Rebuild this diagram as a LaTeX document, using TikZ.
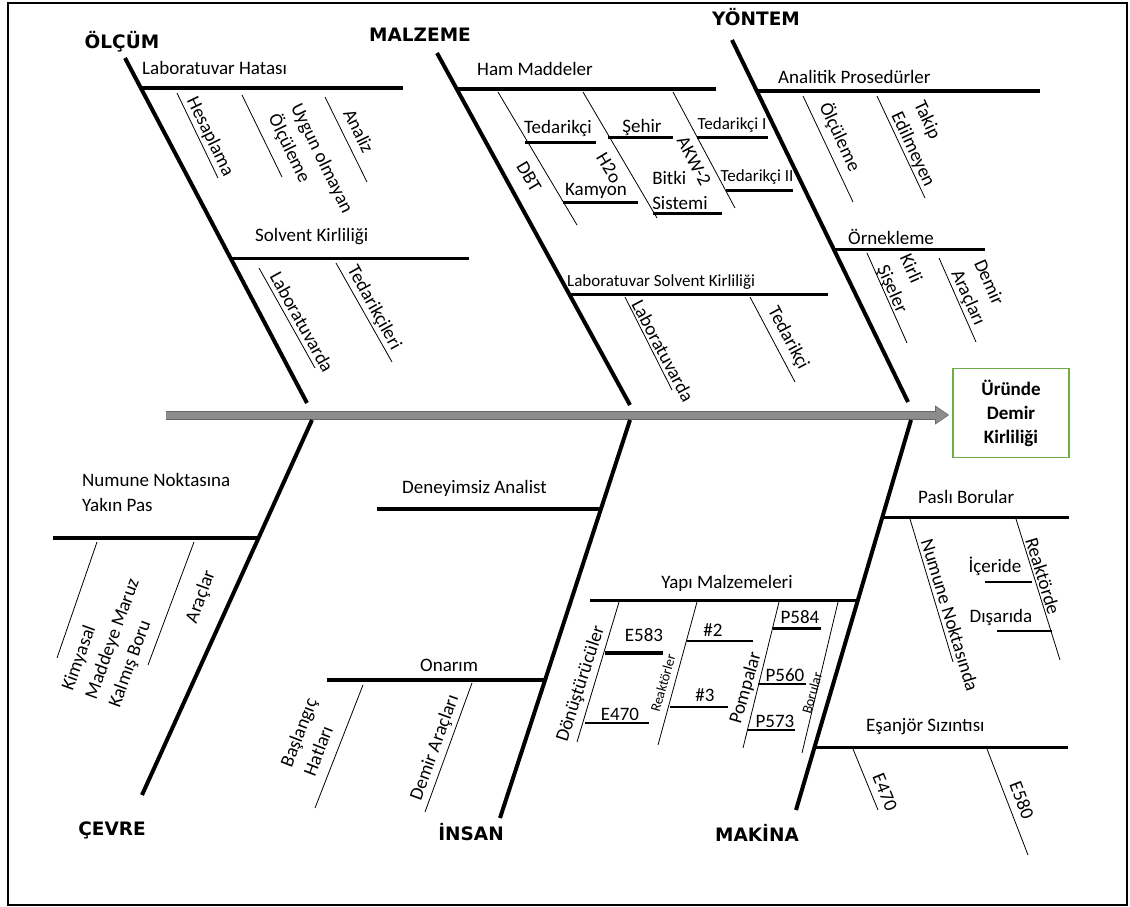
\documentclass[tikz,border=0pt]{standalone}
\usepackage{fontspec}
\setmainfont{Carlito}
\newfontfamily\catfont{DejaVu Sans}
\usetikzlibrary{arrows.meta}
\definecolor{boxgreen}{HTML}{70AD47}
\definecolor{spinegray}{HTML}{8C8C8C}

\begin{document}
\begin{tikzpicture}[
  x=1pt, y=-1pt,
  every node/.style={inner sep=0pt, font=\fontsize{19}{25}\selectfont},
  cat/.style={font=\catfont\bfseries\fontsize{18.5}{20}\selectfont},
  small/.style={font=\fontsize{17}{20}\selectfont},
  tiny/.style={font=\fontsize{14}{16}\selectfont},
  bone/.style={line width=4pt},
  rib/.style={line width=4pt},
  thinrib/.style={line width=3pt},
  twig/.style={line width=0.8pt},
  bar/.style={line width=3pt},
  thinbar/.style={line width=1.8pt},
  spine/.style={line width=7pt, draw=spinegray, -{Triangle[length=12pt,width=15pt]}, shorten >=4pt,
    preaction={draw=black!60, line width=9pt, -{Triangle[length=14pt,width=18pt]}, shorten >=3pt}}
]
\useasboundingbox (0,0) rectangle (1130,907);
\draw[line width=2.5pt] (8,3) rectangle (1127,905);

\node[draw=boxgreen, line width=1.6pt, minimum width=116pt, minimum height=89pt, align=center,
  font=\bfseries\fontsize{19}{24}\selectfont] (effect) at (1011,413) {Üründe\\Demir\\Kirliliği};
\coordinate (tail) at (166,415);
\draw[spine] (tail) -- (tail -| effect.west);

\node[cat] (olcum) at (122,42) {ÖLÇÜM};
\node[cat] (malzeme) at (420,35) {MALZEME};
\node[cat] (yontem) at (756,17) {YÖNTEM};
\node[cat] (cevre) at (112,830) {ÇEVRE};
\node[cat] (insan) at (471,832) {İNSAN};
\node[cat] (makina) at (757,833) {MAKİNA};

\coordinate (olcumA) at (125,58);  \coordinate (olcumB) at (307,403);
\coordinate (malzA) at (437,53);   \coordinate (malzB) at (630,405);
\coordinate (yontA) at (732,40);   \coordinate (yontB) at (908,402);
\coordinate (cevrA) at (312,420);  \coordinate (cevrB) at (142,795);
\coordinate (insanA) at (630,420); \coordinate (insanB) at (500,818);
\coordinate (makA) at (911,420);   \coordinate (makB) at (796,810);
\draw[bone] (olcumA) -- (olcumB);
\draw[bone] (malzA) -- (malzB);
\draw[bone] (yontA) -- (yontB);
\draw[bone] (cevrA) -- (cevrB);
\draw[bone] (insanA) -- (insanB);
\draw[bone] (makA) -- (makB);

% olcum
\draw[rib] (140,88) -- (403,88);
\node[anchor=west] (labHata) at (142,68) {Laboratuvar Hatası};
\draw[twig] (177,93) -- (218,178);
\node[rotate=-64] (hesap) at (210,137) {Hesaplama};
\draw[twig] (242,95) -- (282,177);
\node[rotate=-64, align=left] (uygun) at (310,164) {Uygun olmayan\\Ölçüleme};
\draw[twig] (325,97) -- (367,182);
\node[rotate=-64] (analiz) at (359,131) {Analiz};
\draw[thinrib] (232,258) -- (469,258);
\node[anchor=west] (solvent) at (255,237) {Solvent Kirliliği};
\draw[twig] (259,268) -- (315,368);
\node[rotate=-61] (labda) at (302,322) {Laboratuvarda};
\draw[twig] (336,263) -- (392,362);
\node[rotate=-61] (tedler) at (374,308) {Tedarikçileri};

% malzeme
\draw[rib] (457,89) -- (716,89);
\node[anchor=west] (ham) at (477,69) {Ham Maddeler};
\draw[twig] (498,92) -- (577,225);
\node[rotate=-59] (dbt) at (529,177) {DBT};
\draw[bar] (525,142) -- (596,142);
\node (tedDbt) at (558,128) {Tedarikçi};
\draw[bar] (563,202) -- (638,202);
\node (kamyon) at (596,191) {Kamyon};
\draw[twig] (583,92) -- (657,218);
\node[rotate=-59] (hto) at (609,168) {H2o};
\draw[bar] (608,137) -- (673,137);
\node (sehir) at (642,127) {Şehir};
\draw[bar] (653,213) -- (722,213);
\node[align=left] (bitki) at (680,190) {Bitki\\Sistemi};
\draw[twig] (673,92) -- (735,208);
\node[rotate=-62] (akw) at (694,161) {AKW-2};
\draw[bar] (697,137) -- (768,137);
\node[small] (tedI) at (732,125) {Tedarikçi I};
\draw[bar] (726,190) -- (793,190);
\node[small] (tedII) at (757,177) {Tedarikçi II};
\draw[thinrib] (568,294) -- (828,294);
\node[small, anchor=west] (labSolvent) at (567,282) {Laboratuvar Solvent Kirliliği};
\draw[twig] (625,297) -- (672,390);
\node[rotate=-62] (labda2) at (663,351) {Laboratuvarda};
\draw[twig] (750,297) -- (795,382);
\node[rotate=-62] (tedLab) at (788,338) {Tedarikçi};

% yontem
\draw[rib] (758,91) -- (1040,91);
\node[anchor=west] (analitik) at (778,77) {Analitik Prosedürler};
\draw[twig] (803,96) -- (853,202);
\node[rotate=-65] (olculeme) at (840,137) {Ölçüleme};
\draw[twig] (877,96) -- (925,198);
\node[rotate=-65, align=left] (takip) at (924,144) {Takip\\Edilmeyen};
\draw[thinrib] (835,249) -- (985,249);
\node[anchor=west] (ornek) at (848,237) {Örnekleme};
\draw[twig] (867,253) -- (907,343);
\node[rotate=-66, align=left] (kirli) at (903,284) {Kirli\\Şişeler};
\draw[twig] (939,258) -- (976,342);
\node[rotate=-66, align=left] (demirOrn) at (979,293) {Demir\\Araçları};

% cevre
\draw[rib] (53,538) -- (258,538);
\node[anchor=west, align=left] (numune) at (82,492) {Numune Noktasına\\Yakın Pas};
\draw[twig] (97,542) -- (57,658);
\node[rotate=70, align=left] (kimya) at (113,639) {Kimyasal\\Maddeye Maruz\\Kalmış Boru};
\draw[twig] (194,542) -- (148,665);
\node[rotate=70] (araclar) at (201,597) {Araçlar};

% insan
\draw[rib] (377,509) -- (601,509);
\node[anchor=west] (deney) at (402,488) {Deneyimsiz Analist};
\draw[rib] (327,680) -- (545,680);
\node[anchor=west] (onarim) at (420,665) {Onarım};
\draw[twig] (363,685) -- (315,808);
\node[rotate=69, align=left] (baslangic) at (310,737) {Başlangıç\\Hatları};
\draw[twig] (472,683) -- (425,812);
\node[rotate=70] (demirOn) at (435,748) {Demir Araçları};

% makina
\draw[thinrib] (883,517) -- (1069,517);
\node[anchor=west] (pasli) at (918,497) {Paslı Borular};
\draw[twig] (910,519) -- (953,662);
\node[rotate=-73] (numNok) at (950,615) {Numune Noktasında};
\draw[twig] (1016,519) -- (1060,660);
\node[rotate=-73] (reaktorde) at (1043,576) {Reaktörde};
\draw[thinbar] (985,582) -- (1032,582);
\node (iceride) at (995,566) {İçeride};
\draw[thinbar] (997,631) -- (1052,631);
\node (disarida) at (1001,617) {Dışarıda};

\draw[thinrib] (590,600) -- (858,600);
\node (yapi) at (727,583) {Yapı Malzemeleri};
\draw[twig] (619,602) -- (577,742);
\node[rotate=72] (donus) at (581,684) {Dönüştürücüler};
\draw[line width=4pt] (605,653) -- (663,653);
\node (eBes) at (644,635) {E583};
\draw[thinbar] (585,723) -- (649,723);
\node (eDort) at (620,714) {E470};
\draw[twig] (697,602) -- (658,745);
\node[rotate=74, tiny] (reaktor) at (663,683) {Reaktörler};
\draw[thinbar] (687,641) -- (753,641);
\node (iki) at (713,630) {\#2};
\draw[line width=1.4pt] (670,707) -- (728,707);
\node (uc) at (705,695) {\#3};
\draw[twig] (779,602) -- (743,748);
\node[rotate=74] (pompa) at (746,688) {Pompalar};
\draw[bar] (773,628) -- (821,628);
\node (pBes) at (800,617) {P584};
\draw[thinbar] (758,684) -- (806,684);
\node (pAlti) at (785,675) {P560};
\draw[thinbar] (747,730) -- (795,730);
\node (pYedi) at (775,721) {P573};
\draw[twig] (838,602) -- (802,753);
\node[rotate=74, tiny] (borular) at (812,693) {Borular};

\draw[thinrib] (816,747) -- (1068,747);
\node[anchor=west] (esanjor) at (866,727) {Eşanjör Sızıntısı};
\draw[twig] (853,749) -- (878,810);
\node[rotate=-68] (esDort) at (885,792) {E470};
\draw[twig] (987,749) -- (1028,855);
\node[rotate=-69] (esBes) at (1022,800) {E580};
\end{tikzpicture}
\end{document}
